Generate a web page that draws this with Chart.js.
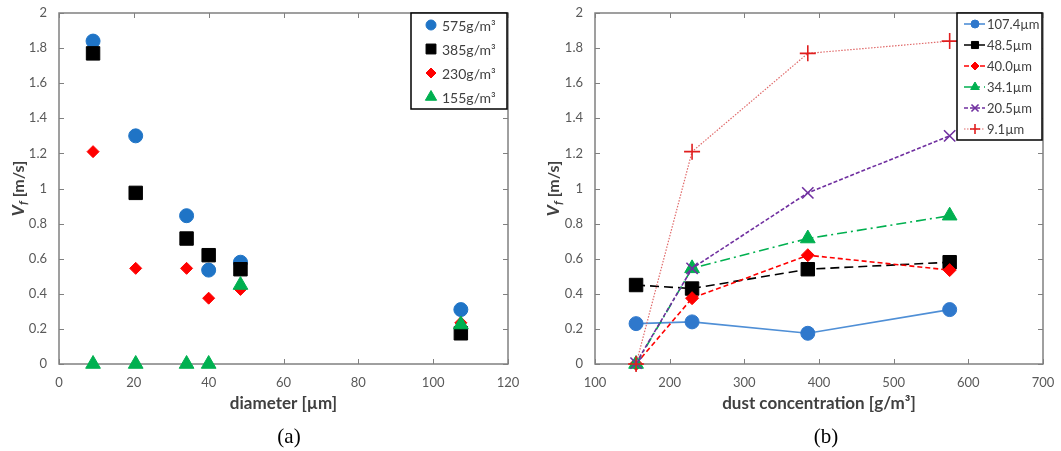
<!DOCTYPE html>
<html>
<head>
<meta charset="utf-8">
<script src="https://cdn.jsdelivr.net/npm/chart.js@4.4.1/dist/chart.umd.min.js"></script>
<style>
  html, body { margin: 0; padding: 0; background: #fff; }
  #wrap { position: relative; width: 1061px; height: 451px; }
  .panel { position: absolute; top: 0; height: 451px; }
  #left { left: 0; width: 530px; }
  #right { left: 530px; width: 531px; }
  .caption {
    position: absolute; top: 424px; transform: translateX(-50%);
    font-family: "Liberation Serif", serif; font-size: 21px; color: #000;
  }
</style>
</head>
<body>
<div id="wrap">
  <div class="panel" id="left"><canvas id="chartA" width="530" height="451"></canvas></div>
  <div class="panel" id="right"><canvas id="chartB" width="531" height="451"></canvas></div>
  <div class="caption" style="left:289px">(a)</div>
  <div class="caption" style="left:826px">(b)</div>
</div>
<script>
// (a) Vf against particle diameter, one series per dust concentration
const diameters = [9.1, 20.5, 34.1, 40.0, 48.5, 107.4];
const concLabels = ['575g/m³', '385g/m³', '230g/m³', '155g/m³'];
const vf575 = [1.84, 1.30, 0.845, 0.535, 0.58, 0.31];
const vf385 = [1.77, 0.975, 0.715, 0.62, 0.54, 0.175];
const vf230 = [1.21, 0.545, 0.545, 0.375, 0.425, 0.235];
const vf155 = [0, 0, 0, 0, 0.45, 0.225];

// (b) Vf against dust concentration, one series per diameter
const concentrations = [155, 230, 385, 575];
const sizeLabels = ['107.4µm', '48.5µm', '40.0µm', '34.1µm', '20.5µm', '9.1µm'];
const vf107 = [0.23, 0.24, 0.175, 0.31];
const vf48 = [0.45, 0.43, 0.54, 0.58];
const vf40 = [0, 0.375, 0.62, 0.535];
const vf34 = [0, 0.545, 0.715, 0.845];
const vf20 = [0.005, 0.545, 0.975, 1.30];
const vf9 = [0, 1.21, 1.77, 1.84];

const vfTicks = [0, 0.2, 0.4, 0.6, 0.8, 1, 1.2, 1.4, 1.6, 1.8, 2];

const FONT = 'Lato';
const tickFont = { family: FONT, size: 13 };
const tickColor = '#595959';
const frameColor = '#808080';

function toPoints(xs, ys) {
  return xs.map((x, i) => ({ x: x, y: ys[i] }));
}

function drawYTitle(ctx, cx, cy) {
  ctx.save();
  ctx.translate(cx, cy);
  ctx.rotate(-Math.PI / 2);
  ctx.fillStyle = '#404040';
  ctx.textBaseline = 'alphabetic';
  ctx.textAlign = 'left';
  const fV = 'italic bold 17px ' + FONT;
  const fF = 'italic bold 12px ' + FONT;
  const fR = 'bold 16px ' + FONT;
  ctx.font = fV; const wV = ctx.measureText('V').width;
  ctx.font = fF; const wF = ctx.measureText('f').width;
  ctx.font = fR; const wR = ctx.measureText(' [m/s]').width;
  let x = -(wV + wF + wR) / 2;
  ctx.font = fV; ctx.fillText('V', x, 6); x += wV;
  ctx.font = fF; ctx.fillText('f', x, 9); x += wF;
  ctx.font = fR; ctx.fillText(' [m/s]', x, 6);
  ctx.restore();
}

// frame, inward ticks and axis titles
function framePlugin(xTitle, yTitleX) {
  return {
    id: 'frame',
    beforeDatasetsDraw(chart) {
      const { ctx, chartArea: a, scales } = chart;
      ctx.save();
      ctx.strokeStyle = frameColor;
      ctx.lineWidth = 1.5;
      ctx.strokeRect(a.left, a.top, a.right - a.left, a.bottom - a.top);
      ctx.lineWidth = 1;
      ctx.beginPath();
      scales.x.ticks.forEach(t => {
        const px = Math.round(scales.x.getPixelForValue(t.value)) + 0.5;
        ctx.moveTo(px, a.bottom); ctx.lineTo(px, a.bottom - 5);
        ctx.moveTo(px, a.top); ctx.lineTo(px, a.top + 5);
      });
      scales.y.ticks.forEach(t => {
        const py = Math.round(scales.y.getPixelForValue(t.value)) + 0.5;
        ctx.moveTo(a.left, py); ctx.lineTo(a.left + 5, py);
        ctx.moveTo(a.right, py); ctx.lineTo(a.right - 5, py);
      });
      ctx.stroke();
      ctx.restore();
    },
    afterDraw(chart) {
      const { ctx, chartArea: a } = chart;
      ctx.save();
      ctx.fillStyle = '#404040';
      ctx.font = 'bold 17px ' + FONT;
      ctx.textAlign = 'center';
      ctx.textBaseline = 'middle';
      ctx.fillText(xTitle, (a.left + a.right) / 2, 404);
      ctx.restore();
      drawYTitle(ctx, yTitleX, (a.top + a.bottom) / 2);
    }
  };
}

// boxed legend drawn inside the plot area
function legendPlugin(box, rows, withLine) {
  return {
    id: 'boxLegend',
    afterDraw(chart) {
      const ctx = chart.ctx;
      ctx.save();
      ctx.fillStyle = '#fff';
      ctx.fillRect(box.x, box.y, box.w, box.h);
      ctx.strokeStyle = '#000';
      ctx.lineWidth = 1.5;
      ctx.strokeRect(box.x, box.y, box.w, box.h);
      chart.data.datasets.forEach((ds, i) => {
        const y = rows.y0 + i * rows.dy;
        if (withLine) {
          ctx.save();
          ctx.strokeStyle = ds.borderColor;
          ctx.lineWidth = ds.borderWidth;
          ctx.setLineDash(ds.borderDash || []);
          ctx.beginPath();
          ctx.moveTo(rows.lineX0, y);
          ctx.lineTo(rows.lineX1, y);
          ctx.stroke();
          ctx.restore();
        }
        ctx.fillStyle = ds.pointBackgroundColor;
        ctx.strokeStyle = ds.pointBorderColor;
        ctx.lineWidth = ds.pointBorderWidth;
        Chart.helpers.drawPoint(ctx, {
          pointStyle: ds.pointStyle,
          radius: ds.legendRadius,
          borderWidth: ds.pointBorderWidth,
          rotation: 0
        }, rows.markX, y);
        ctx.fillStyle = '#404040';
        ctx.font = rows.font;
        ctx.textAlign = 'left';
        ctx.textBaseline = 'middle';
        ctx.fillText(ds.label, rows.textX, y + 1);
      });
      ctx.restore();
    }
  };
}

function axes(xMin, xMax, xStep, yWidth) {
  return {
    x: {
      type: 'linear', min: xMin, max: xMax,
      ticks: { stepSize: xStep, font: tickFont, color: tickColor, padding: 11 },
      grid: { display: true, drawOnChartArea: false, drawTicks: false },
      border: { display: false },
      afterFit(scale) {
        scale.height = 87;
        scale.paddingLeft = 0; scale.paddingRight = 0;
        scale.paddingTop = 0; scale.paddingBottom = 0;
      }
    },
    y: {
      type: 'linear', min: 0, max: 2,
      afterBuildTicks(scale) { scale.ticks = vfTicks.map(v => ({ value: v })); },
      ticks: { font: tickFont, color: tickColor, padding: 12,
               callback: v => String(+v.toFixed(1)) },
      grid: { display: true, drawOnChartArea: false, drawTicks: false },
      border: { display: false },
      afterFit(scale) {
        scale.width = yWidth;
        scale.paddingLeft = 0; scale.paddingRight = 0;
        scale.paddingTop = 0; scale.paddingBottom = 0;
      }
    }
  };
}

function marker(style, radius, color, legendRadius, borderWidth) {
  return {
    pointStyle: style,
    pointRadius: radius,
    pointHoverRadius: radius,
    pointBackgroundColor: color,
    pointBorderColor: color,
    pointBorderWidth: borderWidth || 1,
    legendRadius: legendRadius
  };
}

// ---------- chart (a) ----------
const seriesA = [vf575, vf385, vf230, vf155];
const markersA = [
  marker('circle', 7, '#1f74c6', 5),
  marker('rect', 9.5, '#000000', 7),
  marker('rectRot', 6, '#ff0000', 5),
  marker('triangle', 8.5, '#00b050', 6.5)
];

new Chart(document.getElementById('chartA'), {
  type: 'scatter',
  data: {
    datasets: seriesA.map((vals, i) => Object.assign({
      label: concLabels[i],
      data: toPoints(diameters, vals),
      showLine: false,
      clip: false,
      order: seriesA.length - i
    }, markersA[i]))
  },
  options: {
    responsive: false,
    animation: false,
    events: [],
    layout: { padding: { left: 0, top: 13, right: 22, bottom: 0 } },
    scales: axes(0, 120, 20, 59),
    plugins: { legend: { display: false }, tooltip: { enabled: false } }
  },
  plugins: [
    framePlugin('diameter [µm]', 18),
    legendPlugin({ x: 411, y: 13, w: 96, h: 96 },
      { y0: 25, dy: 24, markX: 431, textX: 442, font: '14px ' + FONT }, false)
  ]
});

// ---------- chart (b) ----------
const seriesB = [vf107, vf48, vf40, vf34, vf20, vf9];
const linesB = [
  { borderColor: '#4f8fd6', borderWidth: 1.6, borderDash: [] },
  { borderColor: '#000000', borderWidth: 1.6, borderDash: [9, 5] },
  { borderColor: '#ff0000', borderWidth: 1.6, borderDash: [5, 3] },
  { borderColor: '#00b050', borderWidth: 1.6, borderDash: [10, 4, 2, 4] },
  { borderColor: '#7030a0', borderWidth: 1.6, borderDash: [4, 2] },
  { borderColor: '#e06a6a', borderWidth: 1.2, borderDash: [1.5, 1.5] }
];
const markersB = [
  marker('circle', 7, '#2f78cc', 4),
  marker('rect', 9.5, '#000000', 5),
  marker('rectRot', 6.5, '#ff0000', 4),
  marker('triangle', 8.5, '#00b050', 5),
  marker('crossRot', 8, '#7030a0', 5, 1.6),
  marker('cross', 8, '#e01e1e', 5, 1.6)
];

new Chart(document.getElementById('chartB'), {
  type: 'scatter',
  data: {
    datasets: seriesB.map((vals, i) => Object.assign({
      label: sizeLabels[i],
      data: toPoints(concentrations, vals),
      showLine: true,
      fill: false,
      tension: 0,
      clip: false,
      order: seriesB.length - i
    }, linesB[i], markersB[i]))
  },
  options: {
    responsive: false,
    animation: false,
    events: [],
    layout: { padding: { left: 0, top: 13, right: 18, bottom: 0 } },
    scales: axes(100, 700, 100, 65),
    plugins: { legend: { display: false }, tooltip: { enabled: false } }
  },
  plugins: [
    framePlugin('dust concentration [g/m³]', 23),
    legendPlugin({ x: 427, y: 13, w: 85, h: 127 },
      { y0: 24, dy: 21, lineX0: 434, lineX1: 455, markX: 445, textX: 457, font: '13px ' + FONT }, true)
  ]
});
</script>
</body>
</html>
